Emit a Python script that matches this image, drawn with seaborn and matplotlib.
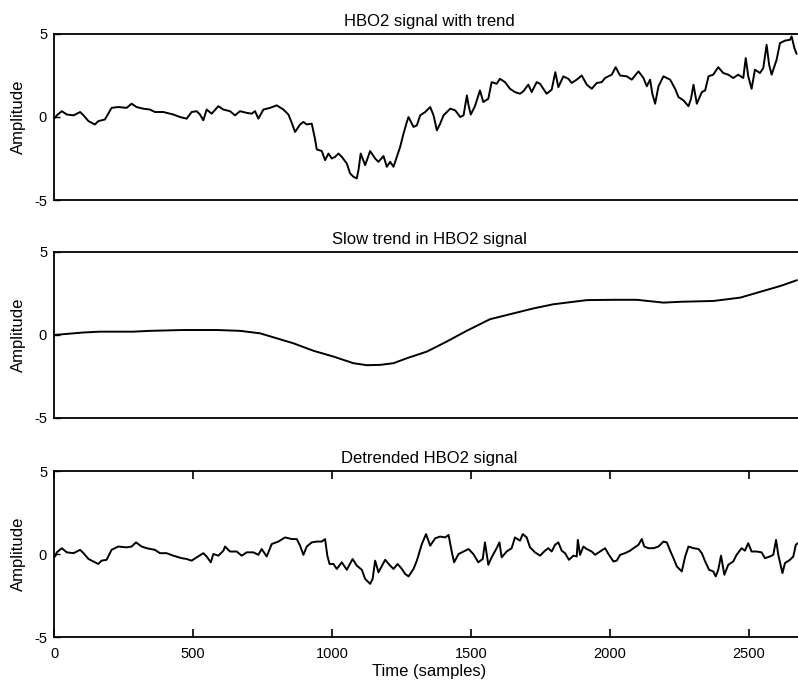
import numpy as np
import pandas as pd
import matplotlib
matplotlib.use("Agg")
import matplotlib.pyplot as plt
import seaborn as sns

# HBO2 signal with trend (sample index, amplitude)
raw_x = [4, 10, 28, 46, 70, 94, 106, 124, 147, 159, 183, 207, 231, 261, 279, 297, 321, 345, 363, 393,
         429, 453, 477, 495, 513, 525, 537, 549, 567, 591, 609, 633, 651, 669, 693, 711, 723, 735, 753, 777,
         801, 825, 843, 855, 867, 885, 897, 909, 927, 939, 945, 963, 975, 987, 999, 1011, 1023, 1035, 1053, 1065,
         1077, 1089, 1095, 1103, 1119, 1137, 1155, 1167, 1185, 1197, 1209, 1221, 1233, 1245, 1257, 1269, 1275, 1293, 1305, 1317,
         1335, 1353, 1365, 1377, 1389, 1401, 1425, 1443, 1461, 1473, 1485, 1491, 1499, 1514, 1532, 1544, 1562, 1574, 1592, 1604,
         1622, 1640, 1658, 1676, 1688, 1706, 1718, 1736, 1748, 1772, 1790, 1803, 1814, 1832, 1850, 1862, 1880, 1898, 1916, 1934,
         1952, 1970, 1982, 2006, 2020, 2036, 2060, 2078, 2102, 2120, 2132, 2144, 2152, 2162, 2174, 2192, 2216, 2234, 2246, 2264,
         2282, 2291, 2300, 2312, 2330, 2342, 2354, 2371, 2389, 2407, 2425, 2443, 2461, 2479, 2488, 2497, 2509, 2521, 2539, 2551,
         2563, 2572, 2581, 2599, 2611, 2629, 2647, 2653, 2663, 2671]
raw_y = [-0.05, 0.1, 0.35, 0.15, 0.1, 0.3, 0.1, -0.25, -0.45, -0.25, -0.15, 0.55, 0.6, 0.55, 0.8, 0.6, 0.5, 0.45, 0.3, 0.3,
         0.15, 0.0, -0.1, 0.3, 0.35, 0.15, -0.2, 0.45, 0.2, 0.65, 0.45, 0.35, 0.1, 0.35, 0.25, 0.2, 0.35, -0.1, 0.45, 0.55,
         0.7, 0.45, 0.15, -0.35, -0.9, -0.45, -0.3, -0.45, -0.4, -1.35, -1.95, -2.05, -2.6, -2.2, -2.5, -2.4, -2.2, -2.4, -2.8, -3.4,
         -3.6, -3.7, -3.2, -2.2, -2.9, -2.05, -2.5, -2.7, -2.35, -3.0, -2.7, -3.0, -2.4, -1.8, -1.0, -0.3, 0.0, -0.6, -0.5, 0.1,
         0.3, 0.6, 0.1, -0.8, -0.4, 0.1, 0.5, 0.4, 0.0, 0.1, 1.3, 0.7, 0.15, 0.65, 1.6, 0.9, 1.1, 2.1, 2.0, 2.3,
         2.1, 1.7, 1.5, 1.4, 1.55, 1.95, 1.5, 2.1, 2.0, 1.4, 1.65, 2.7, 1.8, 2.45, 2.3, 2.05, 2.25, 2.5, 1.95, 1.7,
         2.05, 2.1, 2.35, 2.55, 3.0, 2.5, 2.45, 2.25, 2.75, 2.35, 1.85, 2.25, 1.4, 0.8, 1.85, 2.45, 2.25, 1.7, 1.2, 1.0,
         0.65, 1.1, 1.95, 0.8, 1.5, 1.6, 2.45, 2.55, 3.0, 2.65, 2.55, 2.35, 2.55, 2.35, 3.55, 2.45, 1.7, 2.85, 2.65, 2.95,
         4.35, 3.15, 2.55, 3.45, 4.45, 4.6, 4.65, 4.85, 4.15, 3.8]

# Slow trend
trend_x = [0, 105, 165, 285, 345, 465, 585, 669, 741, 801, 861, 933, 1005, 1077, 1125, 1173, 1221, 1269, 1341, 1412,
           1484, 1568, 1652, 1724, 1796, 1868, 1916, 2012, 2096, 2192, 2252, 2372, 2468, 2540, 2612, 2672]
trend_y = [0.0, 0.15, 0.2, 0.2, 0.25, 0.3, 0.3, 0.25, 0.1, -0.2, -0.5, -0.95, -1.3, -1.7, -1.82, -1.8, -1.7, -1.4, -1.0, -0.4,
           0.25, 0.95, 1.3, 1.6, 1.85, 2.0, 2.1, 2.12, 2.12, 1.95, 2.0, 2.05, 2.25, 2.6, 2.95, 3.3]

# Detrended signal
detr_x = [4, 10, 28, 46, 70, 94, 106, 124, 147, 159, 171, 189, 207, 231, 261, 279, 295, 315, 333, 363,
          381, 405, 429, 459, 477, 495, 513, 537, 549, 564, 573, 591, 609, 615, 633, 657, 675, 693, 717, 735,
          747, 765, 783, 807, 831, 855, 873, 885, 897, 909, 927, 945, 963, 975, 983, 991, 1005, 1017, 1035, 1053,
          1074, 1089, 1107, 1119, 1137, 1146, 1155, 1167, 1191, 1209, 1221, 1236, 1251, 1263, 1275, 1293, 1305, 1323, 1338, 1353,
          1371, 1389, 1407, 1419, 1431, 1439, 1455, 1473, 1491, 1508, 1526, 1542, 1550, 1562, 1574, 1592, 1602, 1610, 1628, 1646,
          1658, 1676, 1686, 1700, 1712, 1730, 1748, 1766, 1778, 1790, 1802, 1814, 1826, 1838, 1852, 1868, 1880, 1884, 1892, 1904,
          1916, 1934, 1946, 1964, 1982, 1996, 2012, 2024, 2036, 2054, 2072, 2084, 2102, 2114, 2123, 2138, 2156, 2174, 2192, 2204,
          2216, 2228, 2240, 2258, 2270, 2282, 2300, 2318, 2330, 2342, 2356, 2371, 2380, 2389, 2399, 2411, 2425, 2443, 2455, 2473,
          2485, 2497, 2509, 2527, 2545, 2557, 2575, 2587, 2597, 2605, 2620, 2629, 2647, 2659, 2668, 2675]
detr_y = [-0.15, 0.1, 0.35, 0.1, 0.05, 0.25, 0.05, -0.3, -0.5, -0.6, -0.4, -0.35, 0.25, 0.45, 0.4, 0.45, 0.7, 0.45, 0.35, 0.25,
          0.05, 0.05, -0.1, -0.25, -0.3, -0.4, -0.2, 0.05, -0.15, -0.5, 0.0, -0.1, 0.2, 0.45, 0.15, 0.15, -0.1, 0.1, 0.1, -0.05,
          0.3, -0.15, 0.6, 0.75, 1.0, 0.9, 0.9, 0.5, -0.05, 0.45, 0.7, 0.75, 0.75, 0.9, -0.1, -0.6, -0.6, -0.9, -0.5, -0.95,
          -0.3, -0.7, -0.95, -1.5, -1.8, -1.5, -0.4, -1.1, -0.35, -0.7, -0.9, -0.6, -0.9, -1.2, -1.35, -0.9, -0.4, 0.6, 1.2, 0.5,
          0.95, 1.05, 1.0, 1.15, 0.1, -0.5, 0.0, 0.15, 0.3, 0.0, -0.5, -0.3, 0.7, -0.65, -0.2, 0.35, 0.7, -0.2, 0.15, 0.35,
          1.0, 0.8, 1.2, 1.0, 0.4, 0.1, -0.1, 0.2, 0.35, 0.15, 0.55, 0.7, 0.2, 0.05, -0.35, -0.1, -0.15, 0.85, -0.05, 0.45,
          0.3, 0.15, -0.05, 0.15, 0.35, -0.05, -0.45, -0.4, -0.05, 0.05, 0.2, 0.35, 0.55, 0.9, 0.45, 0.35, 0.35, 0.45, 0.75, 0.7,
          0.2, -0.25, -0.75, -1.05, -0.15, 0.45, 0.35, 0.3, 0.05, -0.45, -0.95, -1.05, -1.35, -0.95, -0.1, -1.25, -0.65, -0.45, -0.05, 0.35,
          0.2, 0.65, 0.15, 0.15, 0.1, -0.25, -0.15, -0.05, 0.85, -0.05, -1.15, -0.55, -0.35, -0.15, 0.55, 0.65]

titles = ["HBO2 signal with trend", "Slow trend in HBO2 signal", "Detrended HBO2 signal"]
x_ticks = [0, 500, 1000, 1500, 2000, 2500]
y_ticks = [-5, 0, 5]

sns.set_style("white")
plt.rcParams['font.family'] = ['Liberation Sans', 'DejaVu Sans']
plt.rcParams['axes.unicode_minus'] = False
plt.rcParams['text.color'] = 'black'
plt.rcParams['axes.labelcolor'] = 'black'
plt.rcParams['xtick.color'] = 'black'
plt.rcParams['ytick.color'] = 'black'

fig = plt.figure(figsize=(7.98, 6.84), dpi=100)

series = [(raw_x, raw_y), (trend_x, trend_y), (detr_x, detr_y)]
bottoms = [0.7076, 0.3889, 0.0687]
left, width, height = 0.0677, 0.94, 0.2427

for i, ((xs, ys), title, b) in enumerate(zip(series, titles, bottoms)):
    ax = fig.add_axes([left, b, width, height])
    df = pd.DataFrame({'Sample': xs, 'Amplitude': ys})
    sns.lineplot(data=df, x='Sample', y='Amplitude', ax=ax, color='black', linewidth=1.4)
    ax.set_xlim(0, 2698)
    ax.set_ylim(-5, 5)
    ax.set_yticks(y_ticks)
    ax.set_yticklabels([str(t) for t in y_ticks])
    ax.set_title(title, fontsize=12, pad=6, color='black')
    ax.set_ylabel("Amplitude", fontsize=12, color='black')
    ax.yaxis.set_label_coords(-0.037, 0.5)
    for s in ax.spines.values():
        s.set_linewidth(1.3)
        s.set_color('black')
    ax.tick_params(axis='y', direction='in', left=True, right=True, length=4, width=1.0,
                   labelsize=10.5, pad=5, colors='black')
    if i == 2:
        ax.set_xticks(x_ticks)
        ax.tick_params(axis='x', direction='in', bottom=True, top=True, length=6, width=1.2,
                       labelsize=10.5, pad=7, colors='black')
        ax.set_xlabel("Time (samples)", fontsize=12, labelpad=2, color='black')
    else:
        ax.set_xticks([])
        ax.set_xlabel("")

fig.savefig("out.png", dpi=100)
